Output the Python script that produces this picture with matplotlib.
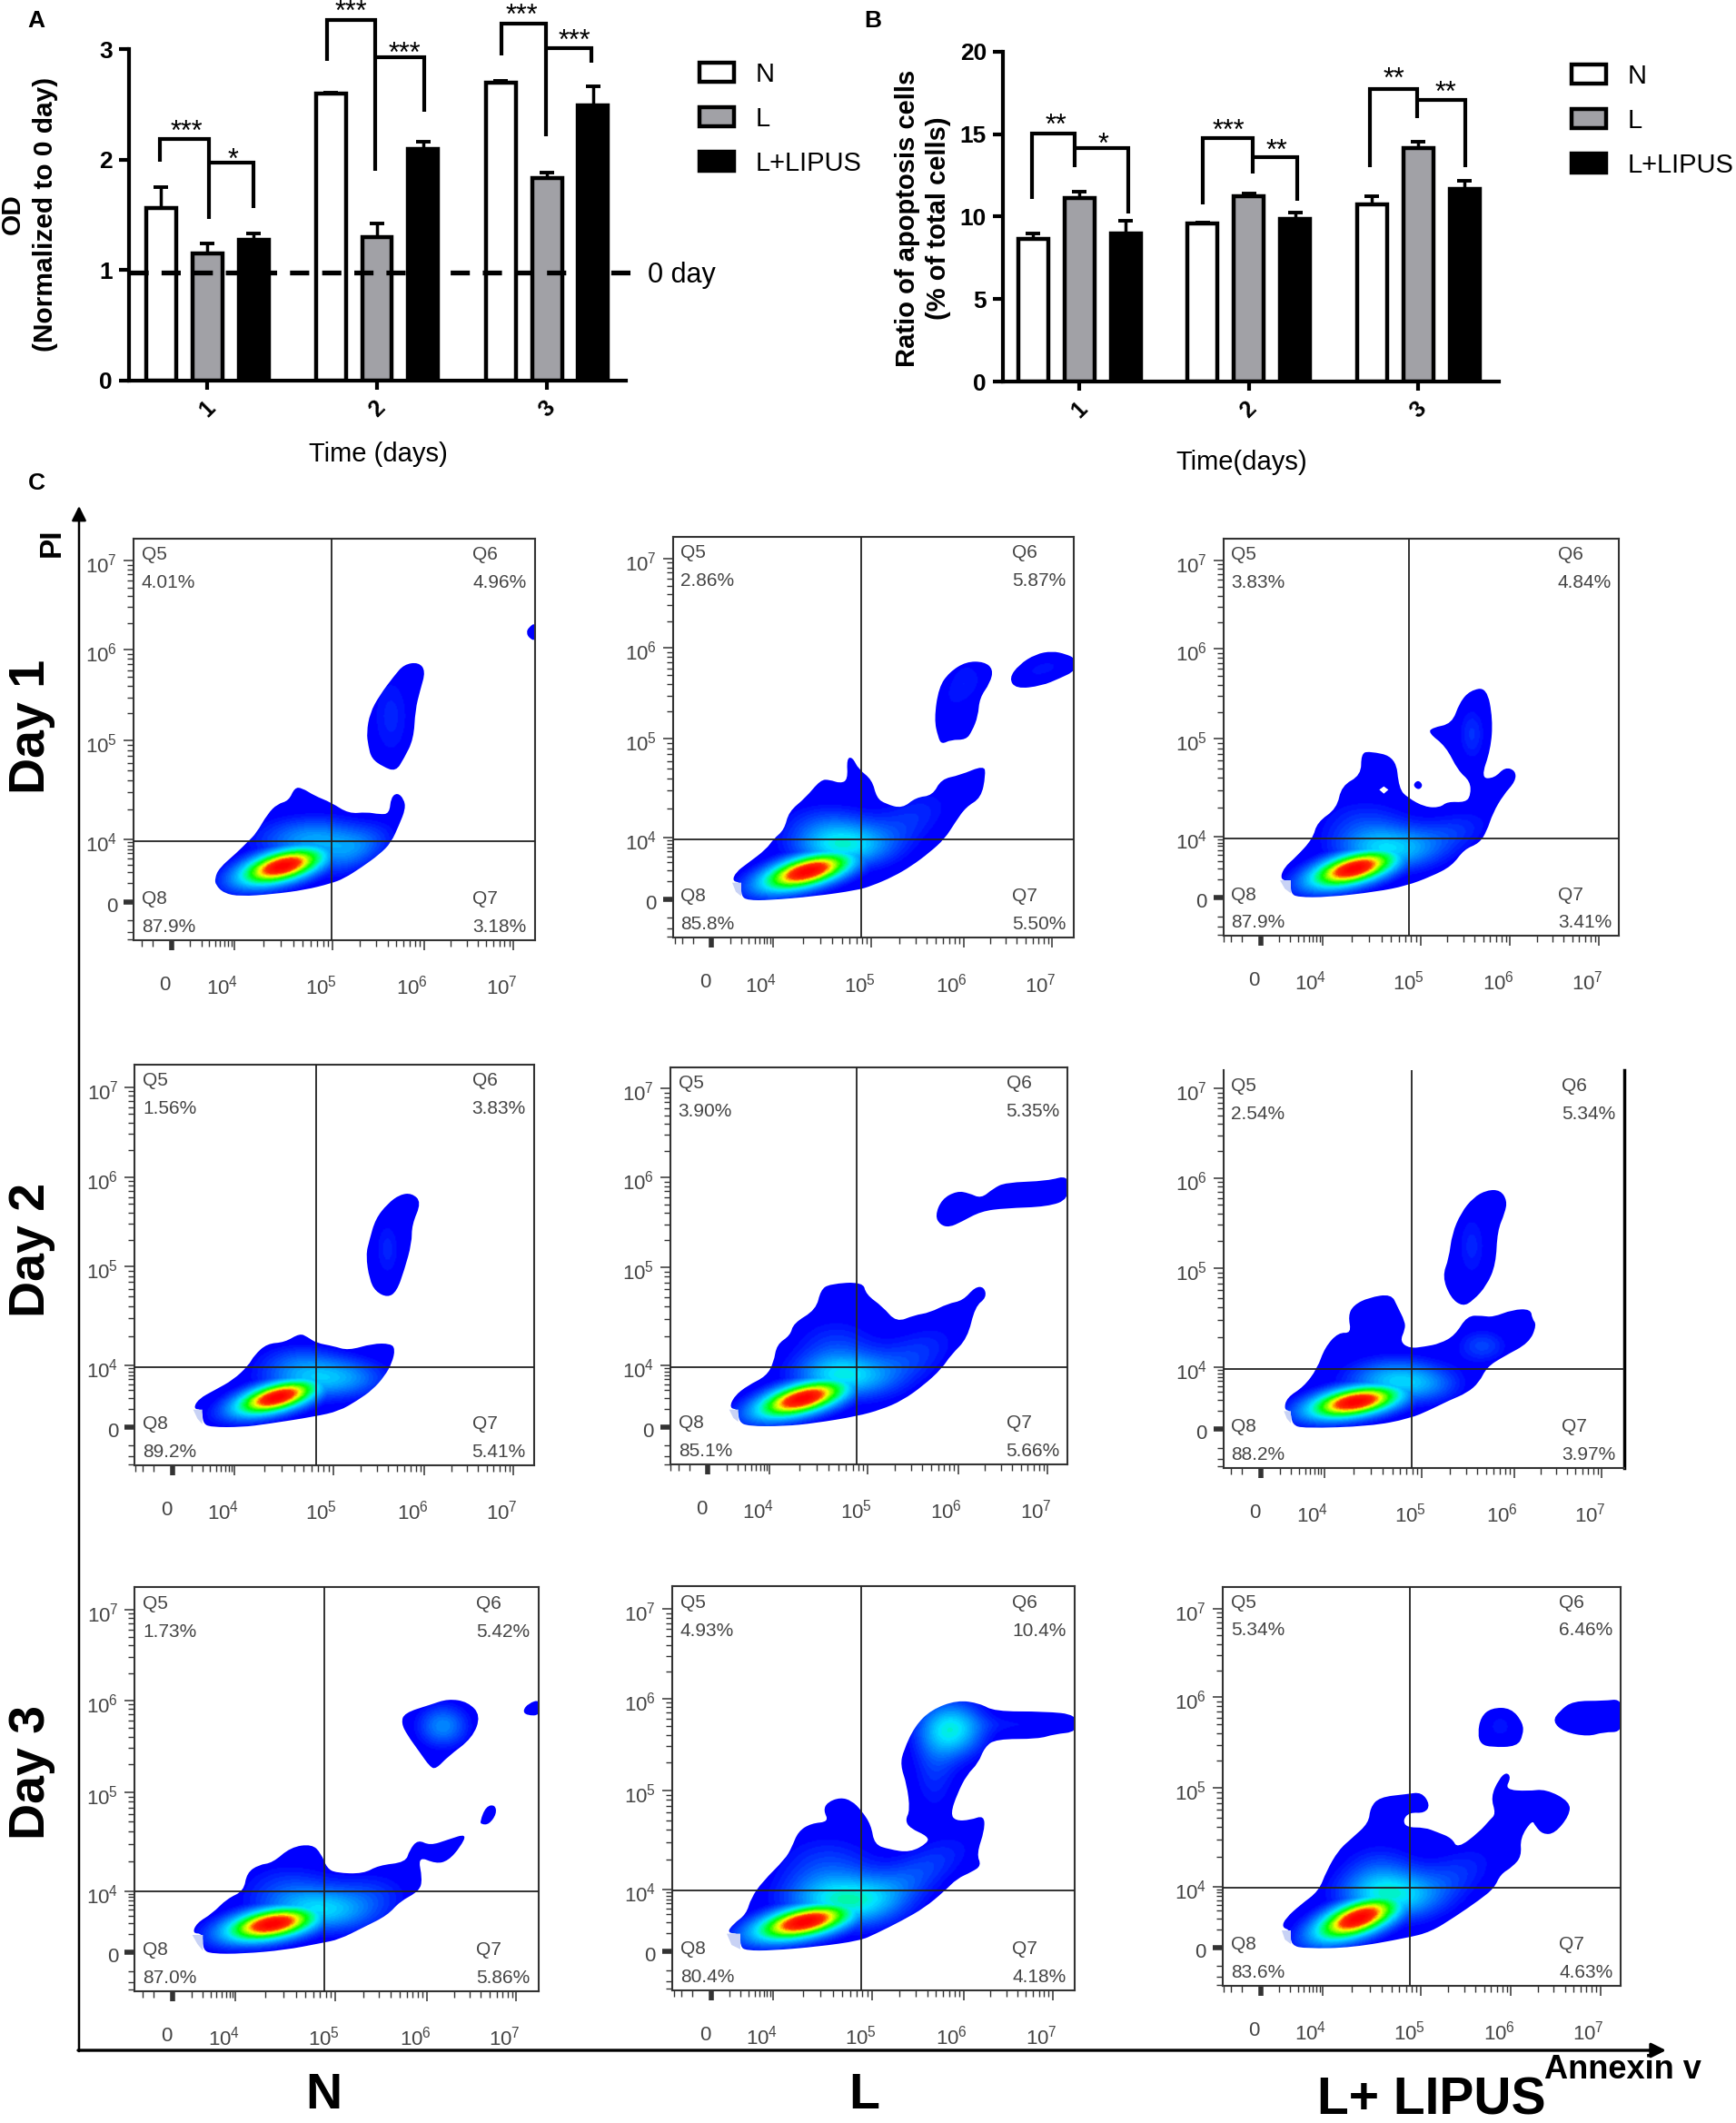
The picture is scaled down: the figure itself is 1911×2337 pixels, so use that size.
import numpy as np
import matplotlib
matplotlib.use("Agg")
import matplotlib.pyplot as plt
from matplotlib.colors import LinearSegmentedColormap
from matplotlib.patches import Patch, PathPatch, Polygon
from matplotlib.path import Path
from matplotlib.transforms import ScaledTranslation

plt.rcParams['font.family'] = ['Liberation Sans', 'DejaVu Sans']
plt.rcParams['mathtext.default'] = 'regular'

W, H = 1911, 2337
# ---------------- bar panels data ----------------
DAYS = [1, 2, 3]
GROUPS = ['N', 'L', 'L+LIPUS']
A_N = [1.56, 2.60, 2.70]
A_N_ERR = [0.19, 0.005, 0.01]
A_L = [1.15, 1.30, 1.83]
A_L_ERR = [0.09, 0.12, 0.05]
A_LIPUS = [1.27, 2.10, 2.49]
A_LIPUS_ERR = [0.06, 0.06, 0.17]
B_N = [8.67, 9.56, 10.77]
B_N_ERR = [0.33, 0.09, 0.47]
B_L = [11.15, 11.24, 14.17]
B_L_ERR = [0.35, 0.16, 0.39]
B_LIPUS = [9.0, 9.84, 11.7]
B_LIPUS_ERR = [0.75, 0.41, 0.5]
ZERO_DAY = 0.978
# brackets: x_left, y_left_low, y_top, x_mid, y_mid_low, y2_top, x_right, y_right_low, label1, x1, y1, label2, x2, y2
A_BRACKETS = [
    (0.722, 1.98, 2.19, 1.011, 1.46, 1.97, 1.273, 1.56, '***', 0.877, 2.30, '*', 1.155, 2.05),
    (1.706, 2.89, 3.26, 1.989, 1.90, 2.93, 2.278, 2.43, '***', 1.845, 3.39, '***', 2.16, 3.01),
    (2.733, 2.94, 3.23, 2.995, 2.21, 3.01, 3.262, 2.875, '***', 2.85, 3.35, '***', 3.16, 3.125),
]
B_BRACKETS = [
    (0.72, 11.05, 15.02, 0.973, 13.0, 14.17, 1.292, 10.18, '**', 0.861, 15.86, '*', 1.142, 14.74),
    (1.727, 10.77, 14.74, 2.024, 12.6, 13.6, 2.287, 10.96, '***', 1.879, 15.53, '**', 2.166, 14.3),
    (2.718, 13.0, 17.76, 2.995, 16.0, 17.07, 3.279, 13.0, '**', 2.855, 18.66, '**', 3.163, 17.86),
]
# ---------------- flow panels data (axis units = instrument channel readout) ----------------
N1_OUT = [
    [(522,1140),(535,1108),(590,1060),(625,1025),(650,1000),(685,940),(715,910),(750,900),(768,860),(790,860),(830,885),(880,905),(935,940),(990,935),(1030,942),(1060,940),(1065,890),(1085,875),(1105,895),(1110,925),(1090,975),(1065,1030),(1030,1065),(975,1105),(920,1140),(880,1155),(800,1175),(700,1188),(600,1195),(550,1185),(525,1160)],
    [(990,690),(1000,630),(1030,575),(1075,515),(1105,480),(1150,473),(1172,500),(1155,560),(1140,620),(1135,710),(1105,770),(1080,810),(1040,795),(1005,770),(995,730)],
    [(1512,350),(1490,365),(1482,382),(1492,400),(1512,408)],
]
N1_PEAKS = [(730,1103,100,36,15,1.0),(830,1025,120,50,0,.32),(950,1060,90,40,30,.13),(1065,640,50,110,0,.11)]
L1_OUT = [
    [(228,1155),(240,1125),(280,1095),(340,1050),(365,1015),(400,985),(415,925),(470,880),(520,820),(550,820),(585,832),(610,820),(606,750),(625,745),(645,785),(690,820),(705,880),(735,900),(790,915),(835,878),(890,872),(918,818),(980,805),(1060,772),(1065,805),(1050,880),(1000,910),(965,960),(930,1015),(880,1060),(820,1105),(760,1140),(690,1170),(640,1185),(500,1205),(350,1218),(280,1218),(258,1205),(258,1160)],
    [(895,620),(910,515),(945,465),(1000,430),(1060,430),(1090,455),(1080,500),(1045,550),(1040,610),(1020,660),(1000,688),(950,688),(920,703),(908,680)],
    [(1142,485),(1175,440),(1230,405),(1285,395),(1330,405),(1362,420),(1362,460),(1310,485),(1250,510),(1165,520)],
]
L1_PEAKS = [(475,1125,115,38,15,1.0),(590,1040,110,50,0,.42),(540,960,110,50,0,.12),(820,950,110,60,30,.12),(1005,490,50,60,0,.09),(950,560,40,50,0,.05),(1255,455,60,25,15,.09)]
P1_OUT = [
    [(222,1150),(235,1110),(275,1075),(330,1015),(345,960),(410,915),(425,840),(490,805),(490,735),(515,725),(605,745),(615,850),(645,880),(700,910),(750,912),(775,892),(835,895),(852,870),(850,825),(810,790),(770,710),(712,665),(725,648),(790,635),(815,565),(850,525),(905,515),(925,620),(918,720),(885,815),(930,815),(965,778),(1000,790),(1000,825),(960,870),(925,930),(905,990),(880,1030),(830,1050),(790,1105),(720,1140),(640,1170),(540,1190),(380,1208),(280,1208),(258,1195),(258,1155)],
    [(660,838),(678,820),(695,838),(680,855)],
]
P1_HOLE = [(550,853),(565,842),(580,853),(565,866)]
P1_PEAKS = [(465,1115,110,38,15,1.0),(570,1050,110,50,0,.36),(500,960,110,60,0,.12),(780,1000,110,50,20,.13),(855,670,35,70,0,.13)]
N2_OUT = [
    [(218,1158),(235,1125),(290,1095),(350,1062),(400,1015),(420,980),(462,942),(520,938),(570,908),(595,920),(625,940),(680,950),(730,965),(810,942),(870,942),(885,960),(875,1005),(850,1050),(810,1095),(760,1130),(700,1165),(620,1183),(460,1208),(380,1218),(275,1218),(250,1205),(248,1160)],
    [(788,650),(800,600),(820,530),(860,480),(900,450),(940,445),(972,475),(940,550),(940,610),(915,700),(890,770),(860,790),(820,770),(800,730)],
]
N2_PEAKS = [(495,1120,105,35,15,1.0),(600,1055,110,50,0,.32),(560,985,90,35,0,.08),(750,1055,90,45,0,.16),(860,630,35,80,0,.11)]
L2_OUT = [
    [(218,1155),(235,1115),(280,1080),(340,1050),(365,1005),(375,945),(420,915),(430,875),(505,830),(520,765),(550,745),(660,738),(670,780),(725,820),(770,872),(830,848),(880,840),(940,810),(990,800),(1030,755),(1060,755),(1068,790),(1030,820),(1005,925),(950,980),(920,1025),(860,1080),(790,1130),(720,1160),(640,1182),(500,1205),(400,1215),(280,1215),(250,1200),(248,1160)],
    [(898,520),(920,465),(970,438),(1010,445),(1050,463),(1090,430),(1130,410),(1270,405),(1340,385),(1340,465),(1270,490),(1130,495),(1050,505),(985,540),(945,558),(915,550)],
]
L2_PEAKS = [(460,1125,115,38,15,1.0),(590,1050,110,50,0,.38),(570,950,100,70,0,.13),(820,990,120,60,30,.14),(1200,445,60,20,0,.05)]
P2_OUT = [
    [(235,1160),(245,1120),(300,1085),(345,1025),(370,955),(415,905),(458,908),(447,850),(465,815),(515,790),(590,778),(610,820),(635,870),(635,895),(618,935),(650,958),(700,952),(750,942),(800,915),(840,850),(890,850),(925,855),(990,830),(1050,828),(1055,860),(1070,880),(1045,940),(960,985),(905,1020),(880,1070),(840,1105),(780,1130),(720,1160),(650,1190),(520,1215),(300,1222),(262,1210),(258,1165)],
    [(758,720),(780,660),(790,580),(820,510),(860,460),(905,435),(950,435),(972,470),(965,510),(940,570),(935,680),(905,750),(860,800),(825,820),(785,790)],
]
P2_PEAKS = [(470,1135,115,36,10,1.0),(600,1065,110,50,0,.36),(720,1080,80,40,0,.1),(890,950,60,40,0,.16),(530,850,40,40,0,.05),(855,620,40,90,0,.11)]
N3_OUT = [
    [(215,1165),(230,1130),(280,1100),(330,1050),(385,1025),(395,965),(435,938),(480,932),(540,880),(610,870),(640,900),(660,950),(690,965),(780,968),(830,940),(920,930),(932,890),(960,855),(1000,875),(1060,855),(1122,835),(1100,880),(1060,925),(1020,935),(960,910),(975,985),(965,1025),(900,1060),(860,1105),(780,1145),(700,1185),(640,1197),(520,1220),(380,1232),(280,1232),(250,1220),(250,1165)],
    [(905,470),(915,437),(1000,410),(1060,390),(1125,400),(1168,445),(1140,520),(1060,580),(1020,622),(1000,615),(965,565),(925,510)],
    [(1165,795),(1185,745),(1215,740),(1220,770),(1195,805),(1170,805)],
    [(1306,430),(1325,405),(1365,392),(1365,445),(1320,445)],
]
N3_PEAKS = [(480,1135,115,38,10,1.0),(640,1090,130,50,0,.38),(530,1005,110,55,0,.12),(820,1020,90,50,0,.09),(1045,480,60,50,0,.27)]
L3_OUT = [
    [(420,1198),(440,1170),(480,1140),(495,1090),(530,1040),(600,970),(620,935),(640,885),(680,860),(735,855),(718,820),(730,795),(770,780),(805,790),(835,820),(865,865),(875,925),(920,940),(985,950),(1040,920),(1040,900),(985,875),(970,850),(985,820),(975,740),(955,680),(965,635),(1000,560),(1050,510),(1130,480),(1200,490),(1245,515),(1400,515),(1500,525),(1500,578),(1430,585),(1380,600),(1250,600),(1215,625),(1195,675),(1160,710),(1130,770),(1110,830),(1125,852),(1170,850),(1213,835),(1215,880),(1190,955),(1205,990),(1175,1010),(1130,1030),(1090,1070),(1030,1120),(960,1160),(880,1200),(830,1222),(700,1240),(560,1252),(480,1252),(462,1240),(462,1200)],
]
L3_PEAKS = [(660,1165,115,36,12,1.0),(780,1100,120,55,0,.42),(730,990,110,70,0,.14),(1000,1020,140,50,30,.16),(1115,570,70,60,0,.42),(1060,700,50,100,0,.12),(1330,555,90,20,0,.07)]
P3_OUT = [
    [(228,1145),(240,1115),(290,1070),(350,1025),(375,960),(415,890),(460,850),(515,800),(520,750),(550,715),(640,705),(690,698),(718,740),(700,768),(650,765),(628,790),(640,815),(700,815),(740,830),(790,850),(808,885),(880,830),(915,790),(935,770),(918,715),(945,655),(970,632),(985,650),(965,690),(1040,695),(1100,688),(1180,730),(1178,775),(1130,835),(1090,838),(1065,810),(1055,790),(1015,850),(1020,910),(990,945),(950,970),(930,1015),(880,1055),(800,1110),(720,1160),(640,1180),(460,1212),(310,1215),(258,1205),(258,1155)],
    [(875,505),(885,450),(920,420),(985,420),(1025,470),(1025,510),(1005,548),(920,550),(885,540)],
    [(1122,465),(1145,430),(1190,397),(1290,397),(1355,390),(1355,500),(1290,500),(1240,515),(1160,500)],
]
P3_PEAKS = [(480,1115,110,42,20,1.0),(580,1040,110,55,0,.38),(550,960,90,70,0,.14),(790,980,120,60,30,.13),(950,480,40,40,0,.09),(1240,455,50,25,0,.06),(1130,755,30,30,0,.05)]

CORNERS = {
    'L1': [(228,1160),(258,1160),(258,1205),(240,1190)],
    'P1': [(222,1152),(258,1152),(258,1195),(238,1180)],
    'N2': [(218,1160),(248,1160),(248,1208),(232,1190)],
    'L2': [(218,1160),(248,1160),(248,1200),(232,1188)],
    'P2': [(235,1165),(258,1165),(258,1205),(245,1190)],
    'N3': [(215,1170),(250,1170),(250,1222),(232,1200)],
    'L3': [(420,1200),(462,1200),(462,1248),(435,1235)],
    'P3': [(228,1155),(258,1155),(258,1200),(238,1185)],
}
PCTS = {
    'N1': ['4.01%', '4.96%', '3.18%', '87.9%'],
    'L1': ['2.86%', '5.87%', '5.50%', '85.8%'],
    'P1': ['3.83%', '4.84%', '3.41%', '87.9%'],
    'N2': ['1.56%', '3.83%', '5.41%', '89.2%'],
    'L2': ['3.90%', '5.35%', '5.66%', '85.1%'],
    'P2': ['2.54%', '5.34%', '3.97%', '88.2%'],
    'N3': ['1.73%', '5.42%', '5.86%', '87.0%'],
    'L3': ['4.93%', '10.4%', '4.18%', '80.4%'],
    'P3': ['5.34%', '6.46%', '4.63%', '83.6%'],
}
# channel-unit limits (x0,x1,y0,y1), quadrant gates, tick channels
XTICKS = {'N1':[388,582,885,1167,1442],'L1':[160,363,688,992,1285],'P1':[158,362,686,982,1275],
          'N2':[150,355,680,982,1275],'L2':[148,352,676,974,1270],'P2':[160,368,690,995,1285],
          'N3':[150,358,688,990,1285],'L3':[372,563,868,1150,1425],'P3':[158,362,688,985,1280]}
YTICKS = {'N1':[1212,1020,715,435,160],'L1':[1215,1012,685,385,90],'P1':[1210,1008,685,388,95],
          'N2':[1218,1015,688,392,95],'L2':[1218,1015,690,393,100],'P2':[1225,1020,692,395,100],
          'N3':[1228,1025,698,395,95],'L3':[1255,1065,758,475,200],'P3':[1212,1010,685,385,92]}
GATES = {'N1':(881,1025),'L1':(654,1017),'P1':(648,1013),'N2':(624,1020),'L2':(640,1020),
         'P2':(656,1025),'N3':(652,1027),'L3':(834,1068),'P3':(650,1014)}
LIMITS = {'N1':(272,1508,93,1330),'L1':(32,1357,18,1342),'P1':(35,1342,25,1335),'N2':(25,1343,22,1343),
          'L2':(24,1336,30,1341),'P2':(35,1358,40,1352),'N3':(25,1360,22,1356),'L3':(252,1492,130,1375),
          'P3':(33,1347,20,1337)}
TICKLABELS = ['0', '$10^{4}$', '$10^{5}$', '$10^{6}$', '$10^{7}$']
QNAMES = ['Q5', 'Q6', 'Q7', 'Q8']
ORIGIN = {'N1':(50,560,2.8),'L1':(730,585,3),'P1':(1335,585,3),'N2':(140,1165,3),'L2':(730,1165,3),
          'P2':(1335,1165,3),'N3':(140,1740,3),'L3':(650,1700,2.8),'P3':(1335,1740,3)}
OUTLINES = {'N1':N1_OUT,'L1':L1_OUT,'P1':P1_OUT,'N2':N2_OUT,'L2':L2_OUT,'P2':P2_OUT,'N3':N3_OUT,'L3':L3_OUT,'P3':P3_OUT}
PEAKS = {'N1':N1_PEAKS,'L1':L1_PEAKS,'P1':P1_PEAKS,'N2':N2_PEAKS,'L2':L2_PEAKS,'P2':P2_PEAKS,'N3':N3_PEAKS,'L3':L3_PEAKS,'P3':P3_PEAKS}

fig = plt.figure(figsize=(W/100, H/100), dpi=100, facecolor='white')

def axpx(x0, y0, x1, y1, **kw):
    return fig.add_axes([x0/W, 1-y1/H, (x1-x0)/W, (y1-y0)/H], **kw)

over = fig.add_axes([0, 0, 1, 1])
over.set_xlim(0, W); over.set_ylim(H, 0); over.axis('off')

COL = {'N': 'white', 'L': '#a1a1a6', 'L+LIPUS': 'black'}

def bar_panel(box, ylim, yticks, series, errs, brackets, ylabel, ylab_xy, ylab_fs, ylab_ls, xlabel, xlab_xy, legend_xy, xstep):
    ax = axpx(*box)
    x_left = 1 - (ax_tick0[box] - box[0]) / xstep
    x_right = 3 + (box[2] - ax_tick2[box]) / xstep
    ax.set_xlim(x_left, x_right); ax.set_ylim(*ylim)
    off = 51 / xstep
    w = 33 / xstep
    for i, g in enumerate(GROUPS):
        x = np.array(DAYS) + (i-1)*off
        ax.bar(x, series[i], width=w, color=COL[g], edgecolor='black', linewidth=3.2, zorder=2)
        ax.errorbar(x, series[i], yerr=[np.zeros(3), errs[i]], fmt='none', ecolor='black',
                    elinewidth=2.5, capsize=6, capthick=2.8, zorder=1)
    for b in brackets:
        xl, yl, yt, xm, ym, y2, xr, yr, s1, sx1, sy1, s2, sx2, sy2 = b
        ax.plot([xl, xl, xm, xm], [yl, yt, yt, ym], color='black', lw=3, clip_on=False,
                solid_joinstyle='miter', solid_capstyle='butt', zorder=3)
        ax.plot([xm, xr, xr], [y2, y2, yr], color='black', lw=3, clip_on=False,
                solid_joinstyle='miter', solid_capstyle='butt', zorder=3)
        for s, sx, sy in [(s1, sx1, sy1), (s2, sx2, sy2)]:
            ax.annotate(s, (sx, sy), xytext=(0, -5), textcoords='offset points', ha='center', va='center',
                        fontsize=22, annotation_clip=False)
    ax.set_xticks(DAYS); ax.set_xticklabels([str(d) for d in DAYS])
    ax.set_yticks(yticks)
    for s in ['top', 'right']:
        ax.spines[s].set_visible(False)
    for s in ['left', 'bottom']:
        ax.spines[s].set_linewidth(3)
    ax.tick_params(axis='y', length=8, width=3, labelsize=19, pad=5)
    ax.tick_params(axis='x', length=7.5, width=3, labelsize=18, pad=5, labelrotation=45)
    for l in ax.get_xticklabels() + ax.get_yticklabels():
        l.set_fontweight('bold')
    ax.set_ylabel(ylabel, fontsize=ylab_fs, fontweight='bold', va='center', ha='center', linespacing=ylab_ls)
    ax.yaxis.set_label_coords((ylab_xy[0]-box[0])/(box[2]-box[0]), (box[3]-ylab_xy[1])/(box[3]-box[1]))
    ax.set_xlabel(xlabel, fontsize=21, va='center', ha='center')
    ax.xaxis.set_label_coords((xlab_xy[0]-box[0])/(box[2]-box[0]), (box[3]-xlab_xy[1])/(box[3]-box[1]))
    handles = [Patch(facecolor=COL[g], edgecolor='black', linewidth=3.2, label=g) for g in GROUPS]
    ax.legend(handles=handles, loc='upper left', bbox_to_anchor=(legend_xy[0]/W, 1-legend_xy[1]/H),
              bbox_transform=fig.transFigure, frameon=False, fontsize=21, handlelength=1.3,
              handleheight=0.72, handletextpad=0.82, labelspacing=0.72, borderpad=0, borderaxespad=0)
    return ax

BOX_A = (142, 54, 689, 419)
BOX_B = (1104, 57, 1650, 420)
ax_tick0 = {BOX_A: 228, BOX_B: 1188}
ax_tick2 = {BOX_A: 602, BOX_B: 1561}

axA = bar_panel(BOX_A, (0, 3), [0, 1, 2, 3], [A_N, A_L, A_LIPUS], [A_N_ERR, A_L_ERR, A_LIPUS_ERR],
                A_BRACKETS, 'OD\n(Normalized to 0 day)', (32, 236), 21.5, 1.4, 'Time (days)', (416, 500), (770, 68), 187)
axA.plot([axA.get_xlim()[0], axA.get_xlim()[1] + 16/187], [ZERO_DAY, ZERO_DAY], color='black', lw=3.8,
         ls=(0, (4.0, 2.7)), clip_on=False, zorder=4)
over.text(713, 303, '0 day', fontsize=22, ha='left', va='center')
bar_panel(BOX_B, (0, 20), [0, 5, 10, 15, 20], [B_N, B_L, B_LIPUS], [B_N_ERR, B_L_ERR, B_LIPUS_ERR],
          B_BRACKETS, 'Ratio of apoptosis cells\n(% of total cells)', (1016, 240), 21, 1.25, 'Time(days)', (1367, 509), (1730, 70), 186.5)

# ---------------- flow panels ----------------
JET = LinearSegmentedColormap.from_list('flow', [
    (0.0, '#0000ff'), (0.05, '#0000ff'), (0.25, '#0080ff'), (0.42, '#00e8ff'), (0.52, '#00ff80'),
    (0.62, '#00ff00'), (0.78, '#ffff00'), (0.88, '#ff3000'), (1.0, '#ff0000')], N=40)

def smooth_path(polys):
    verts, codes = [], []
    for poly in polys:
        p = np.array(poly, float)
        n = len(p)
        mids = (p + np.roll(p, -1, axis=0)) / 2
        verts.append(mids[-1]); codes.append(Path.MOVETO)
        for i in range(n):
            verts.append(p[i]); codes.append(Path.CURVE3)
            verts.append(mids[i]); codes.append(Path.CURVE3)
        verts.append(mids[-1]); codes.append(Path.CLOSEPOLY)
    return Path(np.array(verts), codes)

def minor_positions(t, lo, hi):
    out = []
    logs = np.log10(np.arange(2, 10))
    for a, b in zip(t[:-1], t[1:]):
        out += list(a + (b-a)*logs)
    out += list(t[0] - (t[1]-t[0])*logs)
    return [v for v in out if min(lo, hi) <= v <= max(lo, hi)]

def flow_panel(key):
    ox, oy, sc = ORIGIN[key]
    x0, x1, y0, y1 = LIMITS[key]
    ax = axpx(ox + x0/sc, oy + y0/sc, ox + x1/sc, oy + y1/sc)
    xs = np.linspace(x0, x1, 360)
    ys = np.linspace(y0, y1, 360)
    X, Y = np.meshgrid(xs, ys)
    main = np.zeros_like(X)
    rest = np.zeros_like(X)
    for n, (cx, cy, s1, s2, ang, amp) in enumerate(PEAKS[key]):
        a = np.radians(ang)
        dx, dy = X - cx, Y - cy
        u = dx*np.cos(a) - dy*np.sin(a)
        v = dx*np.sin(a) + dy*np.cos(a)
        g = amp*np.exp(-0.5*(u**2/s1**2 + v**2/s2**2))
        if n == 0:
            main = g
        else:
            rest += g
    Z = np.maximum(main, rest)
    im = ax.imshow(np.clip(Z, 0, 1), extent=(x0, x1, y1, y0), cmap=JET, vmin=0, vmax=1,
                   aspect='auto', interpolation='bilinear', zorder=1)
    clip = PathPatch(smooth_path(OUTLINES[key]), transform=ax.transData, facecolor='none', edgecolor='none')
    ax.add_patch(clip)
    im.set_clip_path(clip)
    if key in CORNERS:
        ax.add_patch(Polygon(CORNERS[key], closed=True, facecolor='#c8d2f5', edgecolor='none', zorder=2))
    if key == 'P1':
        ax.add_patch(Polygon(P1_HOLE, closed=True, facecolor='white', edgecolor='none', zorder=2))
    ax.set_xlim(x0, x1); ax.set_ylim(y1, y0)
    gx, gy = GATES[key]
    ax.axvline(gx, color='#222222', lw=1.3, zorder=3)
    ax.axhline(gy, color='#222222', lw=1.3, zorder=3)
    for s in ax.spines.values():
        s.set_linewidth(1.5); s.set_edgecolor('#333333')
    if key == 'P2':
        ax.spines['top'].set_visible(False)
        ax.spines['right'].set_linewidth(2.5)
        ax.spines['right'].set_edgecolor('black')
    xt, yt = XTICKS[key], YTICKS[key]
    ax.set_xticks(xt); ax.set_xticklabels(TICKLABELS)
    ax.set_yticks(yt); ax.set_yticklabels(TICKLABELS)
    ax.set_xticks(minor_positions(xt, x0, x1), minor=True)
    ax.set_yticks(minor_positions(yt, y0, y1), minor=True)
    ax.tick_params(which='major', length=8, width=1.1, color='#333333', labelsize=16, labelcolor='#444444')
    ax.tick_params(which='minor', length=5, width=1.0, color='#333333')
    ax.tick_params(axis='x', which='major', pad=20)
    ax.tick_params(axis='y', which='major', pad=5)
    ax.xaxis.get_major_ticks()[0].tick1line.set_markeredgewidth(4)
    ax.yaxis.get_major_ticks()[0].tick1line.set_markeredgewidth(4)
    for i, l in enumerate(ax.get_xticklabels()):
        dx = -7 if i == 0 else -13
        l.set_transform(l.get_transform() + ScaledTranslation(dx/100, 0, fig.dpi_scale_trans))
    for l in ax.get_yticklabels():
        l.set_transform(l.get_transform() + ScaledTranslation(0, -3/100, fig.dpi_scale_trans))
    pct = PCTS[key]
    places = [(0.02, 0.04, 0.11), (0.845, 0.04, 0.11), (0.845, 0.897, 0.967), (0.02, 0.897, 0.967)]
    for q, p, (fx, fq, fp) in zip(QNAMES, pct, places):
        ax.text(fx, 1-fq, q, transform=ax.transAxes, fontsize=15, color='#444444', va='center', ha='left', zorder=5)
        ax.text(fx, 1-fp, p, transform=ax.transAxes, fontsize=15, color='#444444', va='center', ha='left', zorder=5)

for k in ['N1', 'L1', 'P1', 'N2', 'L2', 'P2', 'N3', 'L3', 'P3']:
    flow_panel(k)

# ---------------- annotations ----------------
for txt, x, y in [('A', 40, 23), ('B', 961, 23), ('C', 40, 532)]:
    over.text(x, y, txt, fontsize=19, fontweight='bold', ha='center', va='center')
for txt, y in [('Day 1', 800), ('Day 2', 1376), ('Day 3', 1951)]:
    over.text(35, y, txt, fontsize=40, fontweight='bold', rotation=90, ha='center', va='center')
over.text(57, 597, 'PI', fontsize=24, fontweight='bold', rotation=90, ha='center', va='center')
for txt, x, y, fs in [('N', 356, 2307, 40), ('L', 951, 2307, 40), ('L+ LIPUS', 1576, 2312, 41)]:
    over.text(x, y, txt, fontsize=fs, fontweight='bold', ha='center', va='center')
over.text(1786, 2278, 'Annexin v', fontsize=26, fontweight='bold', ha='center', va='center')
over.annotate('', xy=(87, 557), xytext=(87, 2258),
              arrowprops=dict(arrowstyle='-|>', lw=1.8, color='black', mutation_scale=24, shrinkA=0, shrinkB=0))
over.annotate('', xy=(1834, 2257), xytext=(86, 2257),
              arrowprops=dict(arrowstyle='-|>', lw=2.4, color='black', mutation_scale=24, shrinkA=0, shrinkB=0))

fig.savefig('out.png', dpi=100, facecolor='white')
